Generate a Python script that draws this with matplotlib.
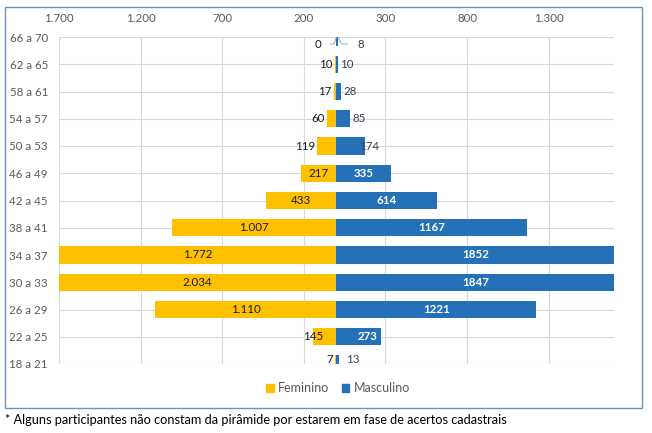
import matplotlib
matplotlib.use("Agg")
import matplotlib.pyplot as plt
from matplotlib.patches import Rectangle, Patch
import matplotlib.transforms as mtransforms

plt.rcParams['font.family'] = ['Lato', 'DejaVu Sans']

categories = ["18 a 21", "22 a 25", "26 a 29", "30 a 33", "34 a 37", "38 a 41",
              "42 a 45", "46 a 49", "50 a 53", "54 a 57", "58 a 61", "62 a 65", "66 a 70"]
feminino = [7, 145, 1110, 2034, 1772, 1007, 433, 217, 119, 60, 17, 10, 0]
masculino = [13, 273, 1221, 1847, 1852, 1167, 614, 335, 174, 85, 28, 10, 8]
tick_values = [-1700, -1200, -700, -200, 300, 800, 1300]
footnote = "* Alguns participantes não constam da pirâmide por estarem em fase de acertos cadastrais"

YELLOW = "#FFC000"
BLUE = "#2571B8"
GRAY = "#595959"
XLIM = 1700

W, H = 652, 433
fig = plt.figure(figsize=(W / 100, H / 100), dpi=100)
ax = fig.add_axes([59 / W, 1 - 364 / H, (614 - 59) / W, (364 - 37) / H])

y = list(range(len(categories)))
bh = 0.63
ax.barh(y, [-v for v in feminino], height=bh, color=YELLOW, zorder=2)
ax.barh(y, masculino, height=bh, color=BLUE, zorder=2)

ax.set_xlim(-XLIM, XLIM)
ax.set_ylim(0, len(categories) - 1)
ax.set_xticks(tick_values)
ax.set_xticklabels([f"{abs(v):,}".replace(",", ".") for v in tick_values])
ax.xaxis.tick_top()
ax.set_yticks(y)
ax.set_yticklabels(categories)
ax.tick_params(axis='x', length=0, pad=9, labelsize=8.3, labelcolor=GRAY)
ax.tick_params(axis='y', length=0, pad=8, labelsize=8.3, labelcolor=GRAY)
for s in ax.spines.values():
    s.set_visible(False)
ax.grid(True, color="#D9D9D9", linewidth=0.8, zorder=0)
ax.set_axisbelow(True)

def px(dx):
    return mtransforms.offset_copy(ax.transData, fig=fig, x=dx, y=0, units='dots')

def fmt_dot(v):
    return f"{v:,}".replace(",", ".")

LFS = 8.3
n = len(categories)
for i, (f, m) in enumerate(zip(feminino, masculino)):
    ly = i
    if i == 0:
        ly = bh / 4
    # female labels
    if i == n - 1:
        pass
    elif f >= 200:
        ax.text(-min(f, XLIM) / 2, ly, fmt_dot(f), ha='center', va='center',
                fontsize=LFS, color="#1A1A1A", zorder=3)
    elif f >= 140:
        ax.text(-f, ly, fmt_dot(f), ha='center', va='center',
                fontsize=LFS, color="#1A1A1A", zorder=3)
    else:
        ax.text(-f, ly, fmt_dot(f), ha='right', va='center', fontsize=LFS,
                color="#1A1A1A", zorder=3, transform=px(-2))
    # male labels
    if i == n - 1:
        pass
    elif m >= 300:
        ax.text(min(m, XLIM) / 2, ly, str(m), ha='center', va='center', fontsize=LFS,
                color='white', fontweight='bold', zorder=3)
    elif m >= 250:
        ax.text(m, ly, str(m), ha='right', va='center', fontsize=LFS,
                color='white', fontweight='bold', zorder=3, transform=px(-4))
    else:
        off = -6 if m > 150 else (7 if i == 0 else 2)
        ax.text(m, ly, str(m), ha='left', va='center', fontsize=LFS,
                color="#333F50", zorder=3, transform=px(off))

# top row labels with leader lines
top = n - 1
ax.annotate(str(feminino[top]), xy=(-feminino[top], top), xytext=(-18, -7),
            textcoords='offset pixels', ha='center', va='center', fontsize=LFS,
            color="#1A1A1A", annotation_clip=False,
            arrowprops=dict(arrowstyle='-', color="#8EA9C8", lw=0.7,
                            shrinkA=4, shrinkB=0,
                            connectionstyle="angle,angleA=0,angleB=70,rad=0"))
ax.annotate(str(masculino[top]), xy=(masculino[top], top), xytext=(23, -7),
            textcoords='offset pixels', ha='center', va='center', fontsize=LFS,
            color="#333F50", annotation_clip=False,
            arrowprops=dict(arrowstyle='-', color="#8EA9C8", lw=0.7,
                            shrinkA=5, shrinkB=0,
                            connectionstyle="angle,angleA=0,angleB=-60,rad=0"))

# legend
handles = [Patch(color=YELLOW, label="Feminino"), Patch(color=BLUE, label="Masculino")]
fig.legend(handles=handles, loc='center', bbox_to_anchor=(338 / W, 1 - 388 / H),
           ncol=2, frameon=False, fontsize=9, handlelength=0.6, handleheight=0.6,
           handletextpad=0.35, columnspacing=1.0, labelcolor=GRAY)

# chart border
fig.patches.append(Rectangle((5 / W, 1 - 408 / H), 637 / W, 401 / H,
                             transform=fig.transFigure, fill=False,
                             edgecolor="#6A94BE", linewidth=1.0))

fig.text(5 / W, 1 - 420 / H, footnote, ha='left', va='center', fontsize=9.2, color='black')

fig.savefig("out.png", dpi=100)
